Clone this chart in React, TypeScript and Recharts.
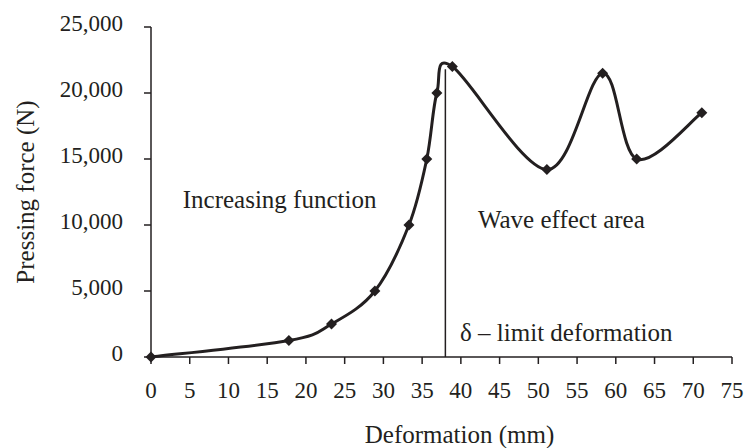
import { LineChart, Line, XAxis, YAxis, ReferenceLine, ReferenceDot } from 'recharts';

const deformation = [0, 17.8, 23.3, 28.9, 33.3, 35.6, 36.9, 38.9, 51.1, 58.3, 62.7, 71.1];
const force = [0, 1250, 2500, 5000, 10000, 15000, 20000, 22000, 14200, 21500, 15000, 18500];

const xTicks = [0, 5, 10, 15, 20, 25, 30, 35, 40, 45, 50, 55, 60, 65, 70, 75];
const yTicks = [0, 5000, 10000, 15000, 20000, 25000];

const limitX = 38.0;
const limitTop = 21800;

const notes = [
  { text: 'Increasing function', x: 4.1, y: 11900 },
  { text: 'Wave effect area', x: 42.2, y: 10400 },
  { text: 'δ – limit deformation', x: 39.9, y: 1850 },
];

const data = deformation.map((d, i) => ({ d, f: force[i] }));

const FONT = 'Liberation Serif, DejaVu Serif, serif';
const INK = '#231f20';

// Excel-style smoothing: catmull-rom segments written as cubic beziers
function excelSmooth(context: any) {
  let pts: [number, number][] = [];
  return {
    areaStart() {},
    areaEnd() {},
    lineStart() {
      pts = [];
    },
    point(x: number, y: number) {
      pts.push([+x, +y]);
    },
    lineEnd() {
      if (!pts.length) return;
      context.moveTo(pts[0][0], pts[0][1]);
      for (let i = 0; i < pts.length - 1; i++) {
        const p0 = pts[i - 1] || pts[i];
        const p1 = pts[i];
        const p2 = pts[i + 1];
        const p3 = pts[i + 2] || p2;
        context.bezierCurveTo(
          p1[0] + (p2[0] - p0[0]) / 6,
          p1[1] + (p2[1] - p0[1]) / 6,
          p2[0] - (p3[0] - p1[0]) / 6,
          p2[1] - (p3[1] - p1[1]) / 6,
          p2[0],
          p2[1],
        );
      }
    },
  };
}

function Diamond(props: any) {
  const { cx, cy, index } = props;
  if (cx == null || cy == null) return <g key={index} />;
  const r = 5.5;
  return (
    <path
      key={index}
      d={`M${cx},${cy - r}L${cx + r},${cy}L${cx},${cy + r}L${cx - r},${cy}Z`}
      fill={INK}
    />
  );
}

function NoteLabel(text: string) {
  return (props: any) => {
    const { viewBox } = props;
    const x = viewBox.x + (viewBox.width || 0) / 2;
    const y = viewBox.y + (viewBox.height || 0) / 2;
    return (
      <text x={x} y={y} dy="0.33em" fill={INK} fontSize={25} style={{ fontFamily: FONT }} textAnchor="start">
        {text}
      </text>
    );
  };
}

const tickStyle = { fill: INK, fontSize: 23, style: { fontFamily: FONT } };

export default function App() {
  return (
    <div style={{ position: 'absolute', left: 0, top: 0, background: '#fff', fontFamily: FONT }}>
      <LineChart
        width={744}
        height={448}
        data={data}
        margin={{ top: 27, right: 12, bottom: 0, left: 0 }}
        style={{ fontFamily: FONT }}
      >
        <XAxis
          dataKey="d"
          type="number"
          domain={[0, 75]}
          ticks={xTicks}
          height={91}
          tickSize={7}
          tickMargin={18}
          stroke={INK}
          strokeWidth={1.5}
          tick={tickStyle}
          label={{
            value: 'Deformation (mm)',
            position: 'insideBottom',
            offset: 5,
            dx: 18,
            fill: INK,
            fontSize: 25,
            style: { fontFamily: FONT },
          }}
        />
        <YAxis
          type="number"
          domain={[0, 25000]}
          ticks={yTicks}
          width={151}
          tickSize={7}
          tickMargin={21}
          stroke={INK}
          strokeWidth={1.5}
          tickFormatter={(v: number) => v.toLocaleString('en-US')}
          tick={{ ...tickStyle, dy: -4 }}
          label={{
            value: 'Pressing force (N)',
            angle: -90,
            position: 'insideLeft',
            offset: 25,
            fill: INK,
            fontSize: 25,
            style: { textAnchor: 'middle', fontFamily: FONT },
          }}
        />
        <ReferenceLine
          segment={[
            { x: limitX, y: 0 },
            { x: limitX, y: limitTop },
          ]}
          stroke={INK}
          strokeWidth={1.5}
        />
        {notes.map(n => (
          <ReferenceDot
            key={n.text}
            x={n.x}
            y={n.y}
            r={0}
            fill="none"
            stroke="none"
            label={NoteLabel(n.text)}
          />
        ))}
        <Line
          dataKey="f"
          type={excelSmooth as any}
          stroke={INK}
          strokeWidth={3}
          dot={Diamond}
          activeDot={false}
          isAnimationActive={false}
        />
      </LineChart>
    </div>
  );
}
